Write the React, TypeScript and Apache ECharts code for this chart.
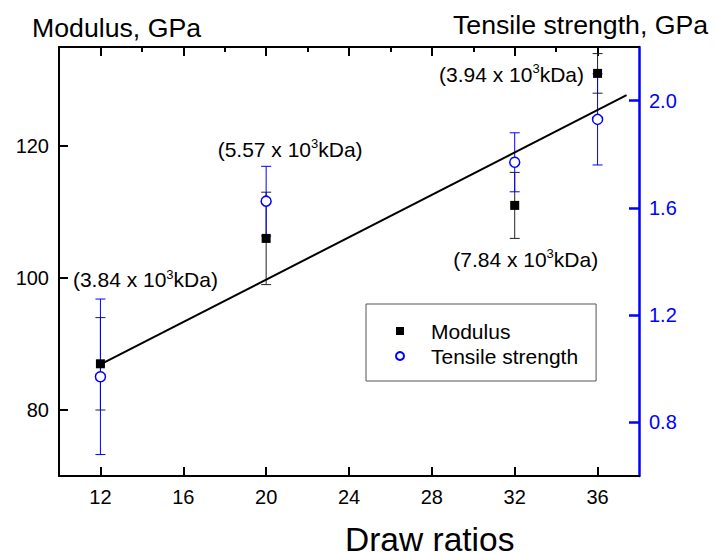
import React, { useEffect, useRef } from "react";
import * as echarts from "echarts";

// ---- data ----
const draws = [12, 20, 32, 36];
const modulus = [87, 106, 111, 131];
const modulusErr = [7, 7, 5, 3];
const tensile = [0.97, 1.625, 1.77, 1.93];
const tensileErr = [0.29, 0.13, 0.11, 0.17];
const molWeights = ["3.84", "5.57", "7.84", "3.94"];
const fitX = [12, 37.4];
const fitY = [86.9, 127.7];
const xTicks = [12, 16, 20, 24, 28, 32, 36];
const xMinorTicks = [14, 18, 22, 26, 30, 34];
const leftTicks = [80, 100, 120];
const rightTicks = [0.8, 1.2, 1.6, 2.0];

const FONT = "'Liberation Sans', Arial, sans-serif";
const BLUE = "#0000ff";
const annotOffsets = [
  [45, -84],
  [24, -89],
  [11, 54],
  [-86, 1],
];

function errorBarItem(color: string) {
  return (params: any, api: any) => {
    const x = api.value(0);
    const lo = api.value(1);
    const hi = api.value(2);
    const pHi = api.coord([x, hi]);
    const pLo = api.coord([x, lo]);
    const hw = 5;
    const style = { stroke: color, lineWidth: 1 };
    return {
      type: "group",
      children: [
        { type: "line", shape: { x1: pHi[0], y1: pHi[1], x2: pLo[0], y2: pLo[1] }, style },
        { type: "line", shape: { x1: pHi[0] - hw, y1: pHi[1], x2: pHi[0] + hw, y2: pHi[1] }, style },
        { type: "line", shape: { x1: pLo[0] - hw, y1: pLo[1], x2: pLo[0] + hw, y2: pLo[1] }, style },
      ],
    };
  };
}

export default function App() {
  const ref = useRef<HTMLDivElement>(null);
  useEffect(() => {
    if (!ref.current) return;
    const chart = echarts.init(ref.current, undefined, { renderer: "svg" });
    const modErrData = draws.map((d, i) => [d, modulus[i] - modulusErr[i], modulus[i] + modulusErr[i]]);
    const tenErrData = draws.map((d, i) => [d, tensile[i] - tensileErr[i], tensile[i] + tensileErr[i]]);
    const option: any = {
      animation: false,
      backgroundColor: "#fff",
      grid: { left: 59, right: 77, top: 47, bottom: 76 },
      xAxis: [
        {
          type: "value",
          position: "bottom",
          min: 10,
          max: 38,
          splitLine: { show: false },
          axisLine: { lineStyle: { color: "#000", width: 2 } },
          axisTick: { inside: true, length: 9, customValues: xTicks, lineStyle: { color: "#000", width: 2 } },
          axisLabel: { customValues: xTicks, color: "#000", fontSize: 20, fontFamily: FONT, margin: 11 },
        },
        {
          type: "value",
          position: "top",
          min: 10,
          max: 38,
          splitLine: { show: false },
          axisLine: { lineStyle: { color: "#000", width: 2 } },
          axisTick: { inside: true, length: 9, customValues: xTicks, lineStyle: { color: "#000", width: 2 } },
          axisLabel: { show: false },
        },
        {
          type: "value",
          position: "top",
          min: 10,
          max: 38,
          splitLine: { show: false },
          axisLine: { show: false },
          axisTick: { inside: true, length: 5, customValues: xMinorTicks, lineStyle: { color: "#000", width: 2 } },
          axisLabel: { show: false },
        },
      ],
      yAxis: [
        {
          type: "value",
          position: "left",
          min: 70,
          max: 135,
          splitLine: { show: false },
          axisLine: { show: true, lineStyle: { color: "#000", width: 2 } },
          axisTick: { show: true, inside: true, length: 9, customValues: leftTicks, lineStyle: { color: "#000", width: 2 } },
          axisLabel: { customValues: leftTicks, color: "#000", fontSize: 20, fontFamily: FONT, margin: 10 },
        },
        {
          type: "value",
          position: "right",
          min: 0.6,
          max: 2.2,
          splitLine: { show: false },
          axisLine: { show: true, lineStyle: { color: BLUE, width: 2.5 } },
          axisTick: { show: true, inside: true, length: 10, customValues: rightTicks, lineStyle: { color: BLUE, width: 2.5 } },
          axisLabel: {
            customValues: rightTicks,
            color: BLUE,
            fontSize: 20,
            fontFamily: FONT,
            margin: 10,
            formatter: (v: number) => v.toFixed(1),
          },
        },
      ],
      legend: {
        orient: "vertical",
        left: 366,
        top: 304,
        padding: [16, 18, 14, 29],
        itemWidth: 8,
        itemHeight: 8,
        itemGap: 3,
        borderColor: "#555",
        borderWidth: 1,
        textStyle: { fontSize: 21, fontFamily: FONT, color: "#000", lineHeight: 22, padding: [0, 0, 0, 22] },
        data: ["Modulus", "Tensile strength"],
      },
      graphic: [
        {
          type: "text",
          left: 32,
          top: 14,
          style: { text: "Modulus, GPa", fontSize: 26.7, fontFamily: FONT, fill: "#000" },
        },
        {
          type: "text",
          left: 453,
          top: 11,
          style: { text: "Tensile strength, GPa", fontSize: 26.7, fontFamily: FONT, fill: "#000" },
        },
        {
          type: "text",
          left: 345,
          top: 522,
          style: { text: "Draw ratios", fontSize: 33.5, lineHeight: 28, fontFamily: FONT, fill: "#000" },
        },
      ],
      series: [
        {
          name: "modErr",
          type: "custom",
          xAxisIndex: 0,
          yAxisIndex: 0,
          renderItem: errorBarItem("#222"),
          encode: { x: 0, y: [1, 2] },
          data: modErrData,
          z: 2,
        },
        {
          name: "tenErr",
          type: "custom",
          xAxisIndex: 0,
          yAxisIndex: 1,
          renderItem: errorBarItem(BLUE),
          encode: { x: 0, y: [1, 2] },
          data: tenErrData,
          z: 3,
        },
        {
          name: "fit",
          type: "line",
          xAxisIndex: 0,
          yAxisIndex: 0,
          showSymbol: false,
          symbol: "none",
          lineStyle: { color: "#000", width: 2 },
          data: fitX.map((x, i) => [x, fitY[i]]),
          z: 4,
        },
        {
          name: "Tensile strength",
          type: "scatter",
          xAxisIndex: 0,
          yAxisIndex: 1,
          symbol: "circle",
          symbolSize: 10,
          itemStyle: { color: "#fff", borderColor: BLUE, borderWidth: 1.5, opacity: 1 },
          data: draws.map((d, i) => [d, tensile[i]]),
          z: 5,
        },
        {
          name: "Modulus",
          type: "scatter",
          xAxisIndex: 0,
          yAxisIndex: 0,
          symbol: "rect",
          symbolSize: 9,
          itemStyle: { color: "#000", opacity: 1 },
          data: draws.map((d, i) => [d, modulus[i]]),
          z: 6,
        },
        {
          name: "annotations",
          type: "scatter",
          xAxisIndex: 0,
          yAxisIndex: 0,
          symbolSize: 0,
          silent: true,
          itemStyle: { opacity: 1 },
          z: 7,
          data: draws.map((d, i) => ({
            value: [d, modulus[i]],
            label: {
              show: true,
              position: "inside",
              offset: annotOffsets[i],
              color: "#000",
              textBorderWidth: 0,
              formatter: `{a|(${molWeights[i]} x 10}{s|3}{a|kDa)}`,
              rich: {
                a: { fontSize: 21, fontFamily: FONT, color: "#000", textBorderWidth: 0, lineHeight: 24, verticalAlign: "middle" },
                s: { fontSize: 13, fontFamily: FONT, color: "#000", textBorderWidth: 0, lineHeight: 13, verticalAlign: "top" },
              },
            },
          })),
        },
      ],
    };
    chart.setOption(option);
    return () => chart.dispose();
  }, []);
  return (
    <div
      ref={ref}
      style={{ position: "fixed", left: 0, top: 0, width: 716, height: 552, background: "#fff" }}
    />
  );
}
